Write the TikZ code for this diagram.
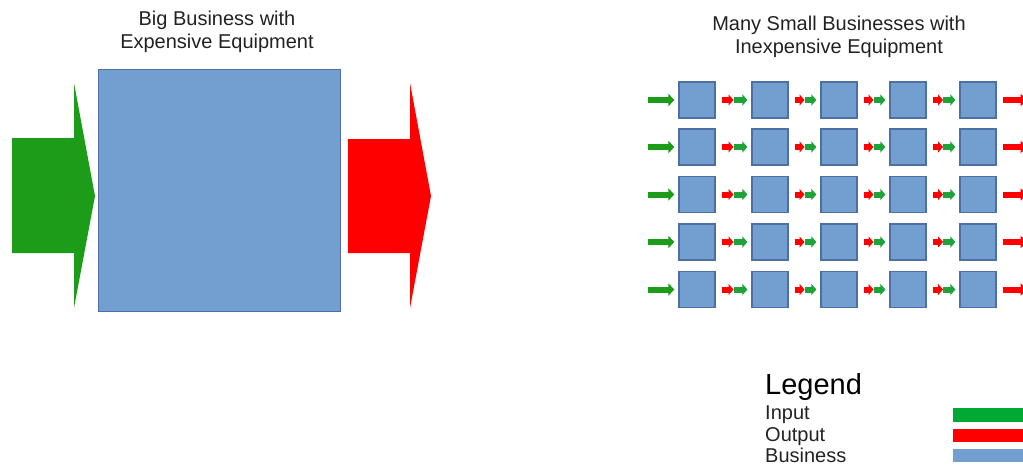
\documentclass[tikz,border=0pt]{standalone}
\usepackage{fontspec}
\setmainfont{Liberation Sans}
\usetikzlibrary{arrows.meta,calc}
\definecolor{bizblue}{HTML}{729FCF}
\definecolor{bizedge}{HTML}{4E6FA3}
\definecolor{ingreen}{HTML}{1C9C18}
\definecolor{smgreen}{HTML}{1EA23A}
\definecolor{outred}{HTML}{FF0000}
\definecolor{leggreen}{HTML}{00A933}
\definecolor{txt}{HTML}{222222}
\begin{document}
\begin{tikzpicture}[x=1pt,y=-1pt,
  bigbox/.style={draw=bizedge, fill=bizblue, line width=1, minimum width=242, minimum height=242, inner sep=0},
  smallbox/.style={draw=bizedge, fill=bizblue, line width=1.2, minimum size=36, inner sep=0},
  inarrow/.style={draw=ingreen, line width=6, -{Triangle[width=12pt,length=6pt]}},
  smallin/.style={draw=smgreen, line width=6, -{Triangle[width=11pt,length=5pt]}},
  smallout/.style={draw=outred, line width=6, -{Triangle[width=11pt,length=5pt]}},
  outarrow/.style={draw=outred, line width=6, -{Triangle[width=12pt,length=7pt]}},
  title/.style={font=\fontsize{20}{23}\selectfont, align=center, inner sep=0, text=txt},
  legtext/.style={font=\fontsize{20}{22}\selectfont, anchor=base west, inner sep=0, text=txt},
  bigarrowin/.style={fill=ingreen},
  bigarrowout/.style={fill=outred}
]
\useasboundingbox (0,0) rectangle (1023,466);
\clip (0,0) rectangle (1023,466);

% ---- left: big business ----
\node[title, anchor=north] (t1) at (217,11) {Big Business with\\Expensive Equipment};
\node[bigbox] (big) at (219,190) {};
\fill[bigarrowin] (12,138) -- (74,138) -- (74,83) -- (95,196) -- (74,308) -- (74,253) -- (12,253) -- cycle;
\fill[bigarrowout] (348,139) -- (410,139) -- (410,83) -- (431,196) -- (410,308) -- (410,253) -- (348,253) -- cycle;

% ---- right: many small businesses ----
\node[title, anchor=north] (t2) at (839,15.5) {Many Small Businesses with\\Inexpensive Equipment};
\foreach \row/\yy in {1/100,2/147,3/194.5,4/242,5/289.5}{
  \foreach \col/\xx in {1/697,2/770,3/839,4/908,5/978}{
    \node[smallbox] (b\row\col) at (\xx,\yy) {};
  }
}
\foreach \row in {1,...,5}{
  \draw[inarrow] ([xshift=-30pt]b\row1.west) -- ([xshift=-4pt]b\row1.west);
  \foreach \col/\nxt in {1/2,2/3,3/4,4/5}{
    \coordinate (m\row\col) at ($(b\row\col.east)!0.5!(b\row\nxt.west)$);
    \draw[smallout] ([xshift=6pt]b\row\col.east) -- (m\row\col);
    \draw[smallin] (m\row\col) -- ([xshift=-4pt]b\row\nxt.west);
  }
  \coordinate (o\row) at ([xshift=31pt]b\row5.east);
  \draw[outarrow] ([xshift=6pt]b\row5.east) -- (o\row);
}

% ---- legend ----
\node[font=\fontsize{29}{30}\selectfont, anchor=base west, inner sep=0, text=black] (lg) at (765,394) {Legend};
\node[legtext] (li) at (765,419) {Input};
\node[legtext] (lo) at (765,441) {Output};
\node[legtext] (lb) at (765,462) {Business};
\fill[leggreen] (953,408) rectangle (1030,422);
\fill[outred] (953,429) rectangle (1030,442);
\fill[bizblue] (953,449) rectangle (1030,462);
\end{tikzpicture}
\end{document}
